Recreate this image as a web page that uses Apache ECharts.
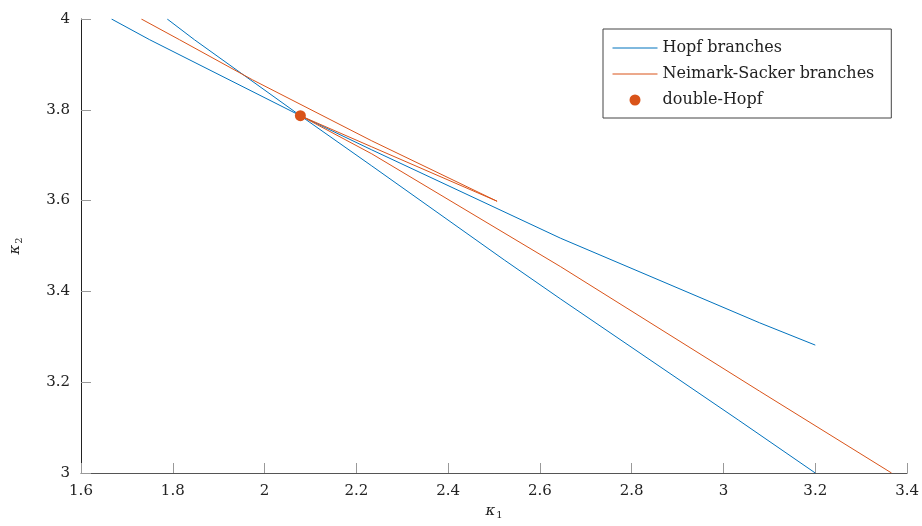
<!DOCTYPE html>
<html>
<head>
<meta charset="utf-8">
<script src="https://cdn.jsdelivr.net/npm/echarts@6/dist/echarts.min.js"></script>
<style>
  html, body { margin: 0; padding: 0; background: #fff; }
  #chart { width: 922px; height: 526px; }
</style>
</head>
<body>
<div id="chart"></div>
<script>
// Axis ticks
const xTicks = [1.6, 1.8, 2, 2.2, 2.4, 2.6, 2.8, 3, 3.2, 3.4];
const yTicks = [3, 3.2, 3.4, 3.6, 3.8, 4];

// Hopf branch A (shallower curve), points [kappa1, kappa2]
const hopfA = [
  [1.6665, 4.0], [1.7497, 3.9543], [2.078, 3.787], [2.2336, 3.7117],
  [2.6453, 3.517], [3.0787, 3.3308], [3.2, 3.2817]
];
// Hopf branch B (steeper curve)
const hopfB = [
  [1.7879, 4.0], [1.8472, 3.9543], [2.078, 3.787], [2.2336, 3.6764],
  [2.5225, 3.4691], [2.6453, 3.3831], [3.0331, 3.1162], [3.2, 3.0]
];
// Neimark-Sacker branches: upper arc to the cusp, back to the double-Hopf point, then down
const nsBranch = [
  [1.7315, 4.0], [1.8147, 3.9543], [1.9736, 3.8661], [2.2336, 3.7316],
  [2.5066, 3.5986], [2.2336, 3.7184], [2.078, 3.787], [2.2336, 3.703],
  [2.6453, 3.4543], [3.0787, 3.1802], [3.3662, 3.0]
];
// Double-Hopf point
const doubleHopf = [[2.078, 3.787]];

const BLUE = '#0072BD';
const ORANGE = '#D95319';
const FONT = 'DejaVu Serif';

const chart = echarts.init(document.getElementById('chart'));

const axisCommon = {
  type: 'value',
  splitLine: { show: false },
  axisTick: { show: true, inside: true, length: 10, lineStyle: { color: '#999', width: 1 } },
  axisLabel: { color: '#222', fontFamily: FONT, fontSize: 15 },
  nameLocation: 'middle'
};

// kappa with a lowered subscript digit
function kappaName(sub) {
  return {
    text: '{k|κ}{s|' + sub + '}',
    style: {
      rich: {
        k: { fontFamily: FONT, fontStyle: 'italic', fontSize: 15, color: '#222', verticalAlign: 'middle' },
        s: { fontFamily: FONT, fontSize: 10, color: '#222', padding: [7, 0, 0, 1], verticalAlign: 'middle' }
      }
    }
  };
}
const kx = kappaName('1');
const ky = kappaName('2');

chart.setOption({
  animation: false,
  backgroundColor: '#fff',
  grid: { left: 77, right: 14, top: 19, bottom: 53, containLabel: false },
  xAxis: Object.assign({}, axisCommon, {
    min: xTicks[0], max: xTicks[xTicks.length - 1], interval: 0.2,
    name: kx.text, nameGap: 30, nameTextStyle: kx.style,
    axisLine: { show: true, onZero: false, lineStyle: { color: '#555', width: 1 } },
    axisLabel: Object.assign({}, axisCommon.axisLabel, { margin: 11 })
  }),
  yAxis: Object.assign({}, axisCommon, {
    min: yTicks[0], max: yTicks[yTicks.length - 1], interval: 0.2,
    name: ky.text, nameGap: 57, nameTextStyle: ky.style,
    axisLine: { show: true, onZero: false, lineStyle: { color: '#222', width: 1 } },
    axisLabel: Object.assign({}, axisCommon.axisLabel, { margin: 11 })
  }),
  legend: {
    orient: 'vertical',
    left: 603, top: 29,
    padding: [11, 17, 10, 9],
    itemGap: 10,
    itemWidth: 45, itemHeight: 11,
    borderColor: '#444', borderWidth: 1, borderRadius: 0,
    backgroundColor: '#fff',
    lineStyle: { width: 1 },
    textStyle: { color: '#222', fontFamily: FONT, fontSize: 16, lineHeight: 16 },
    data: [
      { name: 'Hopf branches', itemStyle: { opacity: 0 }, lineStyle: { color: BLUE, width: 1, opacity: 1 } },
      { name: 'Neimark-Sacker branches', itemStyle: { opacity: 0 }, lineStyle: { color: ORANGE, width: 1, opacity: 1 } },
      { name: 'double-Hopf', icon: 'circle', itemStyle: { color: ORANGE, opacity: 1 } }
    ]
  },
  series: [
    {
      name: 'Hopf branches', type: 'line', data: hopfA,
      symbol: 'none', lineStyle: { color: BLUE, width: 1 }, itemStyle: { color: BLUE }
    },
    {
      name: 'Hopf branches', type: 'line', data: hopfB,
      symbol: 'none', lineStyle: { color: BLUE, width: 1 }, itemStyle: { color: BLUE }
    },
    {
      name: 'Neimark-Sacker branches', type: 'line', data: nsBranch,
      symbol: 'none', lineStyle: { color: ORANGE, width: 1 }, itemStyle: { color: ORANGE }
    },
    {
      name: 'double-Hopf', type: 'scatter', data: doubleHopf,
      symbol: 'circle', symbolSize: 11, itemStyle: { color: ORANGE, opacity: 1 }, z: 5
    }
  ]
});
</script>
</body>
</html>
